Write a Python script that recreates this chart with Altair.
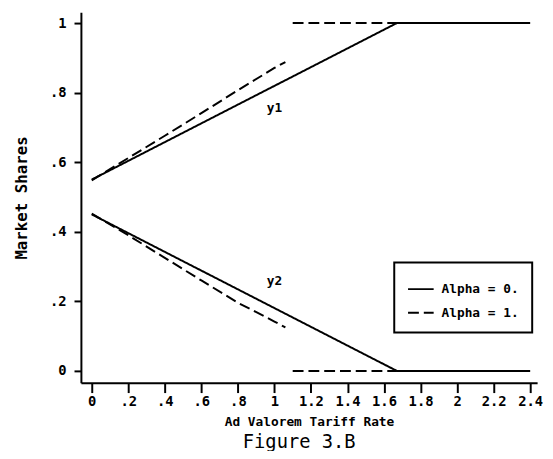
import altair as alt
import pandas as pd

# ---- data ----
solid_x = [0.0, 1.67, 2.4]
solid_y1 = [0.55, 1.0, 1.0]
solid_y2 = [0.45, 0.0, 0.0]

dash_x = [0.0, 0.2, 0.4, 0.6, 0.8, 1.0, 1.06]
dash_y1 = [0.548, 0.612, 0.676, 0.741, 0.807, 0.871, 0.888]
dash_y2 = [0.452, 0.39, 0.325, 0.26, 0.196, 0.142, 0.125]

dash_flat_x = [1.1, 1.67]
dash_flat_y1 = [1.0, 1.0]
dash_flat_y2 = [0.0, 0.0]

series_labels = ["Alpha = 0.", "Alpha = 1."]
curve_names = ["y1", "y2"]
curve_label_x = [1.0, 1.0]
curve_label_y = [0.756, 0.258]

x_ticks = [0, 0.2, 0.4, 0.6, 0.8, 1.0, 1.2, 1.4, 1.6, 1.8, 2.0, 2.2, 2.4]
x_tick_labels = ["0", ".2", ".4", ".6", ".8", "1", "1.2", "1.4", "1.6", "1.8", "2", "2.2", "2.4"]
y_ticks = [0, 0.2, 0.4, 0.6, 0.8, 1.0]
y_tick_labels = ["0", ".2", ".4", ".6", ".8", "1"]

# ---- build table ----
rows = []
def add(seg, alpha, xs, ys):
    for i, (a, b) in enumerate(zip(xs, ys)):
        rows.append({"seg": seg, "alpha": alpha, "i": i, "x": a, "y": b})

add("s1", series_labels[0], solid_x, solid_y1)
add("s2", series_labels[0], solid_x, solid_y2)
add("d1", series_labels[1], dash_x, dash_y1)
add("d2", series_labels[1], dash_x, dash_y2)
add("f1", series_labels[1], dash_flat_x, dash_flat_y1)
add("f2", series_labels[1], dash_flat_x, dash_flat_y2)
df = pd.DataFrame(rows)

lab = pd.DataFrame({"x": curve_label_x, "y": curve_label_y, "t": curve_names})

FONT = "DejaVu Sans Mono"

def arr(lst):
    return "[" + ",".join("'" + s + "'" for s in lst) + "]"

xscale = alt.Scale(domain=[-0.0593, 2.438], nice=False, zero=False)
yscale = alt.Scale(domain=[-0.034, 1.0312], nice=False, zero=False)

xaxis = alt.Axis(
    values=x_ticks,
    labelExpr=arr(x_tick_labels) + "[round(datum.value*5)]",
    title="Ad Valorem Tariff Rate",
    titleFont=FONT, titleFontSize=13, titleFontWeight="bold",
    titleY=39, titleBaseline="middle",
    labelFont=FONT, labelFontSize=14, labelFontWeight="bold",
    tickSize=10, tickWidth=2, domainWidth=2, labelPadding=2,
    grid=False, domainColor="black", tickColor="black", labelColor="black",
    titleColor="black", labelFlush=False, labelOverlap=False,
)
yaxis = alt.Axis(
    values=y_ticks,
    labelExpr=arr(y_tick_labels) + "[round(datum.value*5)]",
    title="Market Shares",
    titleFont=FONT, titleFontSize=16, titleFontWeight="bold",
    titleAngle=270, titleX=-60, titleY=188, titleAlign="center", titleBaseline="middle",
    labelFont=FONT, labelFontSize=14, labelFontWeight="bold",
    tickSize=7, tickWidth=2, domainWidth=2, labelPadding=8,
    grid=False, domainColor="black", tickColor="black", labelColor="black",
    titleColor="black", labelFlush=False, labelOverlap=False,
)

lines = alt.Chart(df).mark_line(color="black", strokeWidth=2).encode(
    x=alt.X("x:Q", scale=xscale, axis=xaxis),
    y=alt.Y("y:Q", scale=yscale, axis=yaxis),
    detail="seg:N",
    order="i:Q",
    strokeDash=alt.StrokeDash(
        "alpha:N",
        scale=alt.Scale(domain=series_labels, range=[[1, 0], [11, 5]]),
        legend=alt.Legend(
            title=None, orient="none", legendX=318, legendY=254,
            symbolType="stroke", symbolSize=676, symbolStrokeWidth=2,
            symbolStrokeColor="black",
            labelFont=FONT, labelFontSize=13, labelFontWeight="bold",
            labelColor="black", labelOffset=7,
            strokeColor="black", padding=13, rowPadding=3,
        ),
    ),
)

texts = alt.Chart(lab).mark_text(
    font=FONT, fontSize=13, fontWeight="bold", color="black"
).encode(
    x=alt.X("x:Q", scale=xscale, axis=xaxis),
    y=alt.Y("y:Q", scale=yscale, axis=yaxis),
    text="t:N",
)

chart = alt.layer(lines, texts).properties(
    width=463, height=376,
    autosize=alt.AutoSizeParams(type="none"),
    padding={"left": 74, "top": 1, "right": 8, "bottom": 66},
    title=alt.Title("Figure 3.B", orient="bottom", font=FONT, fontSize=19,
                    fontWeight="normal", color="black", offset=5, dx=-10),
).configure_view(strokeWidth=0).configure_legend(strokeWidth=2)

chart.save("out.html", embed_options={"renderer": "svg", "actions": False})
